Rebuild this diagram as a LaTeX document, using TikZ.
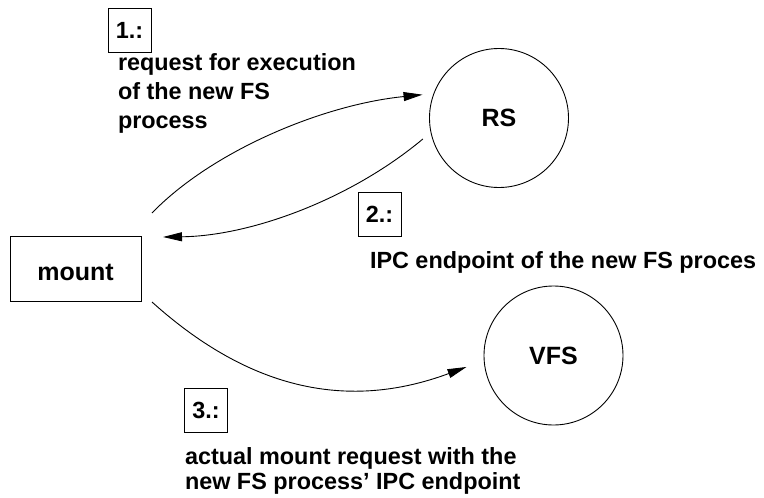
\documentclass[tikz,border=0pt]{standalone}
\usepackage{fontspec}
\setmainfont{Liberation Sans}
\usetikzlibrary{arrows.meta}
\begin{document}
\begin{tikzpicture}[x=1pt,y=-1pt,
  every node/.style={font=\fontsize{23.4}{29}\selectfont\bfseries, inner sep=0pt, outer sep=0pt},
  numbox/.style={draw, line width=0.9pt, minimum width=43pt, minimum height=44pt},
  procbox/.style={draw, line width=0.9pt, minimum width=131pt, minimum height=65pt,
    font=\fontsize{25}{30}\selectfont\bfseries, text height=23pt, text depth=0pt},
  proc/.style={draw, circle, line width=0.9pt, minimum size=139pt,
    font=\fontsize{25}{30}\selectfont\bfseries},
  lbl/.style={align=left, anchor=north west},
  arr/.style={line width=0.9pt, -{Triangle[length=19pt,width=9pt]}}]
\useasboundingbox (0,0) rectangle (764,498);
\node[procbox] (mount) at (75.5,268.5) {mount};
\node[proc] (RS) at (499,118) {RS};
\node[proc] (VFS) at (553.5,355.5) {VFS};
\node[numbox] (n1) at (129.5,30) {1.:};
\node[numbox] (n2) at (379.5,214.5) {2.:};
\node[numbox] (n3) at (206,410) {3.:};
\node[lbl] (t1) at (118,54) {request for execution\\of the new FS\\process};
\node[anchor=base west] (t2) at (370,268) {IPC endpoint of the new FS proces};
\node[lbl, font=\fontsize{23.4}{25}\selectfont\bfseries] (t3) at (185,448) {actual mount request with the\\new FS process’ IPC endpoint};
\draw[arr] ([xshift=11pt,yshift=23pt]mount.north east) .. controls +(60,-62) and +(-100,10) .. ([xshift=-10pt,yshift=3pt]RS.163);
\draw[arr] ([xshift=-9pt,yshift=-3pt]RS.195) .. controls +(-73,61) and +(87,-1) .. ([xshift=22pt,yshift=-1pt]mount.north east);
\draw[arr] ([xshift=11pt,yshift=-1pt]mount.south east) .. controls +(100,90) and +(-116,43) .. ([xshift=-18pt,yshift=-3pt]VFS.187);
\end{tikzpicture}
\end{document}
